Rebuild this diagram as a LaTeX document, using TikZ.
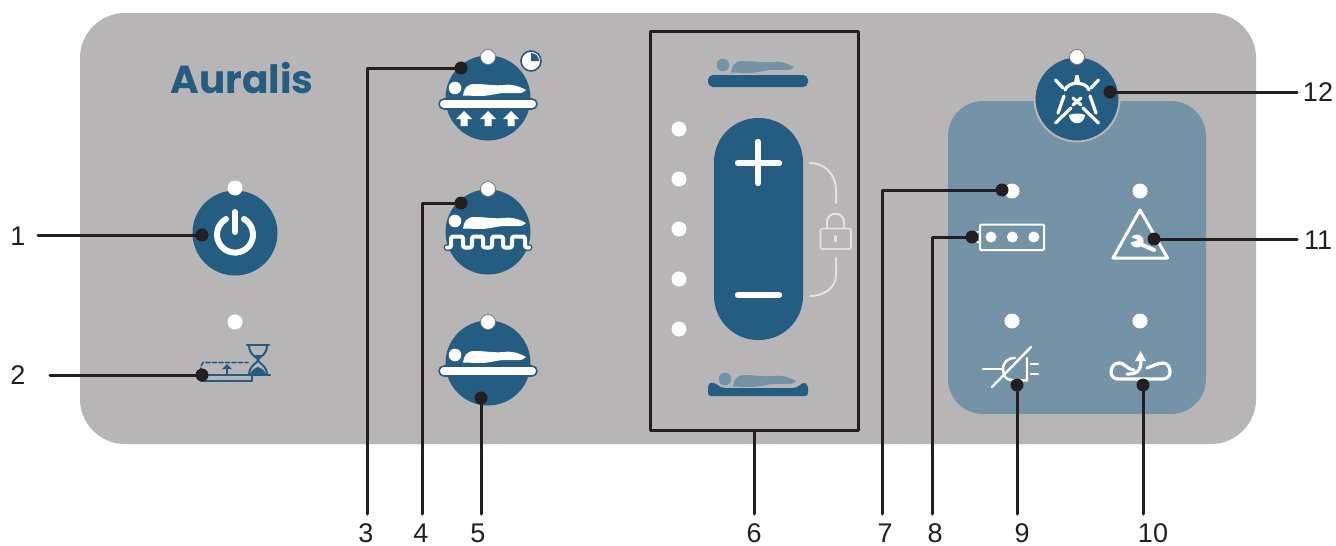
\documentclass[tikz,border=0pt]{standalone}
\usepackage{fontspec}
\setmainfont{Liberation Sans}
\newfontfamily\brandfont{Poppins}
\usetikzlibrary{positioning,calc}
\definecolor{panelgray}{HTML}{B8B5B6}
\definecolor{zoneblue}{HTML}{7593A6}
\definecolor{keyblue}{HTML}{255C82}
\definecolor{leadblack}{HTML}{231F20}
\definecolor{lockgray}{HTML}{E4E3DD}
\tikzset{
    keybtn/.style={circle, fill=keyblue, inner sep=0pt, outer sep=0pt, minimum size=85pt},
    ledlamp/.style={circle, fill=white, inner sep=0pt, outer sep=0pt, minimum size=15pt},
    ledhalo/.style={ledlamp, draw=black!35!panelgray, line width=0.8pt},
    leaddot/.style={circle, fill=leadblack, inner sep=0pt, outer sep=0pt, minimum size=13pt},
    leadline/.style={draw=leadblack, line width=3pt},
    numlabel/.style={font=\fontsize{27}{28}\selectfont, text=leadblack, inner sep=0pt},
    iconline/.style={draw=white, line width=3.2pt},
    bedstrip/.style={draw=keyblue, line width=1.6pt, fill=white, rounded corners=5pt, inner sep=0pt,
        minimum height=10pt, minimum width=98pt},
    sleeper/.pic={
        \fill[pic actions] (0,0) circle[radius=6.3pt];
        \fill[pic actions] (8,7.5) .. controls (9,1) and (11,-4) .. (20,-4) .. controls (30,-4) and (40,-2) .. (48,-3)
            .. controls (55,-4) and (62,-3) .. (71,2) .. controls (68,6.5) and (60,5) .. (50,5)
            .. controls (42,5) and (35,8) .. (25,8) -- cycle;
    },
    liftarrow/.pic={
        \fill[white] (0,-8) -- (8,0) -- (3.5,0) -- (3.5,7) -- (-3.5,7) -- (-3.5,0) -- (-8,0) -- cycle;
    }
}
\begin{document}
\begin{tikzpicture}[x=1pt,y=-1pt,line cap=round,line join=round]
\useasboundingbox (0,0) rectangle (1336,546);
\fill[white] (0,0) rectangle (1336,546);
% panels
\node[fill=panelgray, rounded corners=45pt, inner sep=0pt, minimum width=1176pt, minimum height=431pt] (panel) at (668,228.5) {};
\node[fill=zoneblue, rounded corners=35pt, inner sep=0pt, minimum width=258pt, minimum height=313pt] (zone) at (1077,257.5) {};

% round keys
\node[keybtn] (power) at (235,233) {};
\node[keybtn] (heat) at (488,98) {};
\node[keybtn, below=49pt of heat] (wave) {};
\node[keybtn, below=46pt of wave] (flat) {};
\node[keybtn, draw=panelgray, line width=2pt] (mute) at (1077,99) {};
\node[fill=keyblue, rounded corners=44pt, inner sep=0pt, minimum width=89pt, minimum height=222pt] (updown) at (758.5,229) {};

% lamps
\node[ledlamp] (ledpower) at (235,188) {};
\node[ledlamp] (ledwait) at (235,322) {};
\node[ledhalo] (ledheat) at (488,57) {};
\node[ledhalo] (ledwave) at (488,189) {};
\node[ledhalo] (ledflat) at (488,322) {};
\node[ledhalo] (ledmute) at (1077,57) {};
\node[ledlamp] (levela) at (679,129) {};
\node[ledlamp, below=35pt of levela] (levelb) {};
\node[ledlamp, below=35pt of levelb] (levelc) {};
\node[ledlamp, below=35pt of levelc] (leveld) {};
\node[ledlamp, below=35pt of leveld] (levele) {};
\node[ledlamp] (ledbattery) at (1012,191) {};
\node[ledlamp] (ledservice) at (1140,191) {};
\node[ledlamp] (ledmains) at (1012,321) {};
\node[ledlamp] (ledpressure) at (1140,321) {};

% brand
\node[font=\brandfont\bfseries\fontsize{39}{44}\selectfont, text=keyblue, inner sep=0pt] (brand) at (242,78) {Auralis};

% power symbol
\draw[white, line width=6pt] (244,219) arc[start angle=60, end angle=-240, radius=18pt];
\draw[white, line width=6pt] (235,212) -- (235,232);

% waiting symbol
\draw[keyblue, line width=2.4pt] (202,375) -- (270,375);
\draw[keyblue, line width=2.4pt] (201,375) -- (201,381) -- (252,381) -- (252,375);
\draw[keyblue, line width=1.6pt, dashed, dash pattern=on 4pt off 2.5pt] (201,372) -- (201,366) -- (203,362.5) -- (248,362.5);
\draw[keyblue, line width=2.2pt] (227,375) -- (227,368);
\fill[keyblue] (227,364) -- (232,369) -- (222,369) -- cycle;
\draw[keyblue, line width=2.4pt] (247,345) -- (269,345);
\draw[keyblue, line width=2pt] (249,345) .. controls (249,356) and (258,357) .. (258,360) .. controls (258,363) and (249,365) .. (249,375);
\draw[keyblue, line width=2pt] (267,345) .. controls (267,356) and (258,357) .. (258,360) .. controls (258,363) and (267,365) .. (267,375);
\fill[keyblue] (252,355) -- (264,355) -- (258,358.5) -- cycle;
\fill[keyblue] (250,374) .. controls (252,369) and (256,368) .. (258,367) .. controls (260,368) and (264,369) .. (266,374) -- cycle;

% timed lift key
\pic[white] at (455,88) {sleeper};
\node[bedstrip] (bedheat) at (488,104) {};
\pic at (464,119) {liftarrow};
\pic at (488,119) {liftarrow};
\pic at (511,119) {liftarrow};
\node[circle, draw=keyblue, line width=1.6pt, fill=white, inner sep=0pt, minimum size=20pt] (clock) at (531,61) {};
\fill[keyblue] (531,61) -- (531,53) arc[start angle=90, end angle=0, radius=8pt] -- cycle;

% wave key
\pic[white] at (455,221) {sleeper};
\draw[keyblue, line width=7pt, rounded corners=2pt] (447,247.5) -- (451,247.5) -- (451,236.5) -- (463,236.5) -- (463,247.5) -- (472,247.5) -- (472,236.5) -- (483,236.5) -- (483,247.5) -- (492,247.5) -- (492,236.5) -- (503,236.5) -- (503,247.5) -- (512,247.5) -- (512,236.5) -- (525,236.5) -- (525,247.5) -- (529,247.5);
\draw[white, line width=4pt, rounded corners=2pt] (447,247.5) -- (451,247.5) -- (451,236.5) -- (463,236.5) -- (463,247.5) -- (472,247.5) -- (472,236.5) -- (483,236.5) -- (483,247.5) -- (492,247.5) -- (492,236.5) -- (503,236.5) -- (503,247.5) -- (512,247.5) -- (512,236.5) -- (525,236.5) -- (525,247.5) -- (529,247.5);

% flat key
\pic[white] at (455,355) {sleeper};
\node[bedstrip] (bedflat) at (488,371) {};

% height frame
\node[draw=leadblack, line width=3pt, inner sep=0pt, minimum width=208pt, minimum height=399pt] (frame) at (754,230.5) {};
\pic[zoneblue] at (723,65) {sleeper};
\node[fill=keyblue, rounded corners=5pt, inner sep=0pt, minimum width=100pt, minimum height=12pt] (bedtop) at (758,81) {};
\pic[zoneblue] at (725,379) {sleeper};
\fill[keyblue, rounded corners=3pt] (708,384) -- (713,382) -- (722,388) -- (796,388) -- (804,382) -- (808,385) -- (808,396) -- (708,396) -- cycle;

% plus and minus
\draw[white, line width=6.4pt] (758,142) -- (758,183);
\draw[white, line width=6.4pt] (738,163) -- (779,163);
\draw[white, line width=6.4pt] (738,295) -- (779,295);

% lock
\draw[lockgray, line width=2pt] (810,163) .. controls (825,163) and (836,175) .. (836,190) -- (836,203);
\draw[lockgray, line width=2pt] (836,258) -- (836,275) .. controls (836,287) and (825,296) .. (810,296);
\draw[lockgray, line width=1.8pt, rounded corners=2pt] (820.5,228.5) rectangle (851,249);
\draw[lockgray, line width=2pt] (827,228) -- (827,222) .. controls (827,211) and (844,211) .. (844,222) -- (844,228);
\draw[lockgray, line width=2.8pt] (835.5,236) -- (835.5,241);

% alarm off symbol
\fill[white] (1074,82) -- (1075.5,75) -- (1078.5,75) -- (1080,82) -- cycle;
\draw[iconline] (1065,90) .. controls (1068,81) and (1086,81) .. (1089,90);
\draw[iconline] (1064,96) -- (1058,113);
\draw[iconline] (1090,96) -- (1096,113);
\draw[iconline] (1055.5,80) -- (1063,88);
\draw[iconline] (1098.5,80) -- (1091,88);
\draw[iconline] (1055.5,123) -- (1071,108);
\draw[iconline] (1098.5,123) -- (1083,108);
\draw[iconline] (1073,98) -- (1081,105);
\draw[iconline] (1081,98) -- (1073,105);
\fill[white] (1069,115) .. controls (1073,113) and (1081,113) .. (1085,115) .. controls (1084,126) and (1070,126) .. (1069,115) -- cycle;

% battery symbol
\draw[white, line width=2pt, rounded corners=1pt] (980,224.5) rectangle (1044,250);
\draw[white, line width=1.4pt] (980,231) -- (975,233);
\draw[white, line width=1.4pt] (980,243) -- (975,241);
\node[circle, fill=white, inner sep=0pt, minimum size=11pt] (cella) at (991,237) {};
\node[circle, fill=white, inner sep=0pt, minimum size=11pt, right=10pt of cella] (cellb) {};
\node[circle, fill=white, inner sep=0pt, minimum size=11pt, right=10pt of cellb] (cellc) {};

% service symbol
\draw[white, line width=3pt] (1140,210) -- (1167.5,258) -- (1113,258) -- cycle;
\draw[white, line width=4pt] (1138,243) -- (1154,250);
\fill[white] (1137,241) circle[radius=6.5pt];
\fill[zoneblue] (1129,236.5) -- (1138,240) -- (1129,243) -- cycle;

% unplugged symbol
\draw[white, line width=2.6pt] (983,369) -- (1003,369);
\draw[white, line width=2.4pt] (1015,358) .. controls (1007,358) and (1003,363) .. (1003,369) .. controls (1003,376) and (1006,380) .. (1012,380) -- (1027,380.5) -- (1027,358);
\draw[white, line width=2.4pt] (992,387) -- (1031,347);
\draw[white, line width=2.6pt] (1031,364) -- (1038,364);
\draw[white, line width=2.6pt] (1031,374) -- (1038,374);

% pressure symbol
\draw[iconline] (1147,368) .. controls (1153,366) and (1158,363) .. (1163,363) .. controls (1168,363) and (1170,368) .. (1170,372)
    .. controls (1170,376) and (1167,379) .. (1163,379) -- (1118,379) .. controls (1114,379) and (1111,376) .. (1111,372)
    .. controls (1111,367) and (1114,363) .. (1119,363) .. controls (1125,363) and (1126,369) .. (1134,370);
\draw[iconline] (1127,374) .. controls (1136,374) and (1141,372) .. (1141,360);
\fill[white] (1140.5,351) -- (1146,361) -- (1135,361) -- cycle;

% lead ends
\node[leaddot] (dotpower) at (202,235) {};
\node[leaddot] (dotwait) at (202,375) {};
\node[leaddot] (dotheat) at (461,68) {};
\node[leaddot] (dotwave) at (461,203) {};
\node[leaddot] (dotflat) at (481,398) {};
\node[leaddot] (dotbattery) at (1002,190) {};
\node[leaddot] (dotcells) at (972,237) {};
\node[leaddot] (dotmains) at (1017,385) {};
\node[leaddot] (dotpressure) at (1143,385) {};
\node[leaddot] (dotservice) at (1154,239) {};
\node[leaddot] (dotmute) at (1110,92) {};

% numbers
\node[numlabel] (numa) at (18,236) {1};
\node[numlabel] (numb) at (18,375) {2};
\node[numlabel] (numc) at (366,533) {3};
\node[numlabel] (numd) at (421,533) {4};
\node[numlabel] (nume) at (478,533) {5};
\node[numlabel] (numf) at (754,533) {6};
\node[numlabel] (numg) at (885,533) {7};
\node[numlabel] (numh) at (935,533) {8};
\node[numlabel] (numi) at (1022,533) {9};
\node[numlabel] (numj) at (1153,533) {10};
\node[numlabel] (numk) at (1318,240) {11};
\node[numlabel] (numl) at (1318,92) {12};

% free ends of the leads
\coordinate (enda) at (38,235);
\coordinate (endb) at (50,375);
\coordinate (endc) at (367,514);
\coordinate (endd) at (422,514);
\coordinate (ende) at (481,514);
\coordinate (endf) at (754,514);
\coordinate (endg) at (882,514);
\coordinate (endh) at (932,514);
\coordinate (endi) at (1017,514);
\coordinate (endj) at (1143,514);
\coordinate (endk) at (1297,239);
\coordinate (endl) at (1297,92);

\draw[leadline] (enda) -- (dotpower);
\draw[leadline] (endb) -- (dotwait);
\draw[leadline] (endc) |- (dotheat);
\draw[leadline] (endd) |- (dotwave);
\draw[leadline] (ende) -- (dotflat);
\draw[leadline] (endf) -- (frame.south -| endf);
\draw[leadline] (endg) |- (dotbattery);
\draw[leadline] (endh) |- (dotcells);
\draw[leadline] (endi) -- (dotmains);
\draw[leadline] (endj) -- (dotpressure);
\draw[leadline] (endk) -- (dotservice);
\draw[leadline] (endl) -- (dotmute);
\end{tikzpicture}
\end{document}
